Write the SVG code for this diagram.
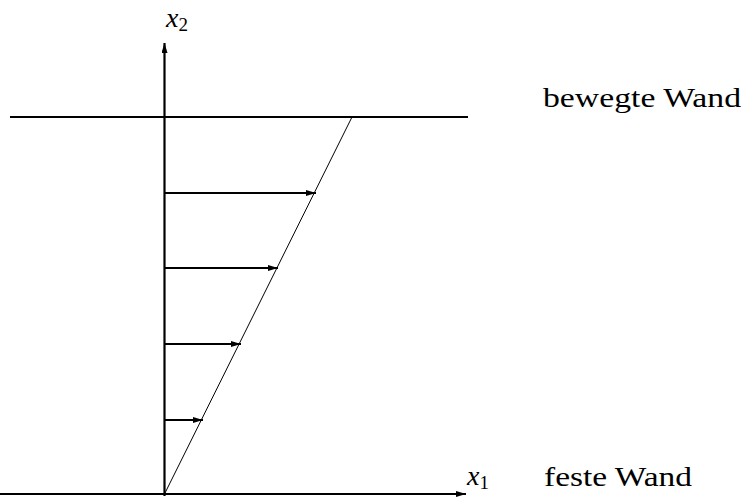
<svg xmlns="http://www.w3.org/2000/svg" width="748" height="499" viewBox="0 0 748 499">
<defs>
<marker id="ah" markerWidth="10" markerHeight="6" refX="10" refY="3" orient="auto" markerUnits="userSpaceOnUse">
<path d="M0,0 L10,3 L0,6 Z" fill="#000"/>
</marker>
</defs>
<style>
.thick{stroke:#000;stroke-width:2.2;fill:none}
.thin{stroke:#000;stroke-width:1;fill:none}
text{fill:#000}
</style>
<rect width="748" height="499" fill="#fff"/>
<g id="walls">
<line class="thick" x1="10" y1="117" x2="468" y2="117"/>
</g>
<g id="connectors">
<line class="thick" x1="164.5" y1="496" x2="164.5" y2="43" marker-end="url(#ah)"/>
<line class="thick" x1="0" y1="494" x2="466" y2="494" marker-end="url(#ah)"/>
<line class="thin" x1="164.5" y1="494" x2="352" y2="117"/>
<line class="thick" x1="164.5" y1="193" x2="316" y2="193" marker-end="url(#ah)"/>
<line class="thick" x1="164.5" y1="268" x2="278" y2="268" marker-end="url(#ah)"/>
<line class="thick" x1="164.5" y1="344" x2="241" y2="344" marker-end="url(#ah)"/>
<line class="thick" x1="164.5" y1="420" x2="203" y2="420" marker-end="url(#ah)"/>
</g>
<g id="labels" font-family="'Liberation Serif', 'DejaVu Serif', serif">
<text x="166" y="27" font-size="28" font-style="italic">x<tspan font-style="normal" font-size="19" dy="4">2</tspan></text>
<text x="467" y="485" font-size="28" font-style="italic">x<tspan font-style="normal" font-size="19" dy="4">1</tspan></text>
<text x="543" y="107" font-size="28" textLength="198" lengthAdjust="spacingAndGlyphs">bewegte Wand</text>
<text x="544" y="486" font-size="28" textLength="148" lengthAdjust="spacingAndGlyphs">feste Wand</text>
</g>
</svg>
